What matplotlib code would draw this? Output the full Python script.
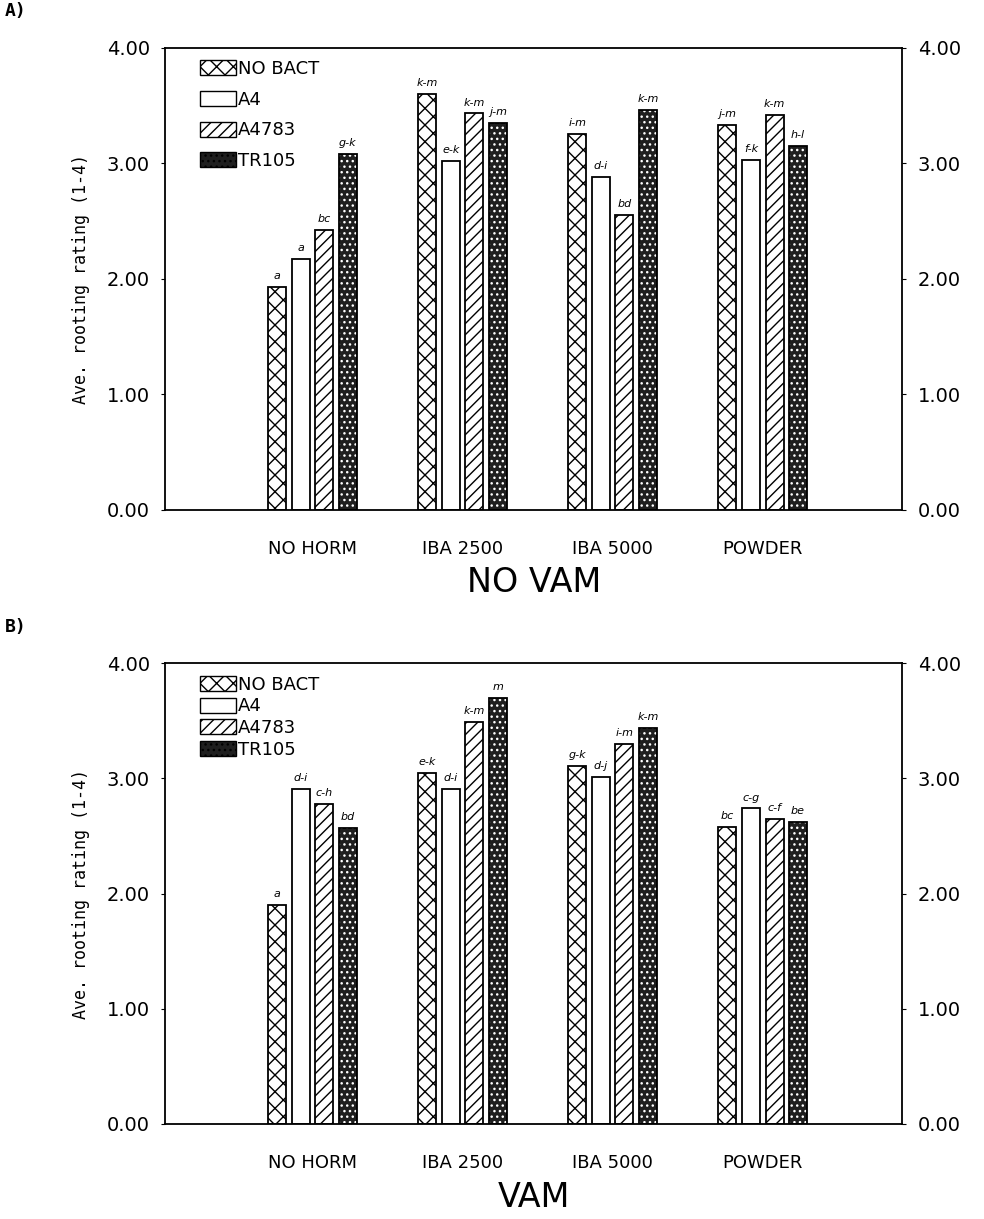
import numpy as np
import matplotlib
matplotlib.use('Agg')
import matplotlib.pyplot as plt
from matplotlib.patches import Patch

# Hormone treatments (x groups) and bacterial treatments (bars in each group)
hormones = ['NO HORM', 'IBA 2500', 'IBA 5000', 'POWDER']
bacteria = ['NO BACT', 'A4', 'A4783', 'TR105']

# Average rooting ratings, rows = bacteria, columns = hormones
no_vam_vals = [
    [1.93, 3.60, 3.25, 3.33],   # NO BACT
    [2.17, 3.02, 2.88, 3.03],   # A4
    [2.42, 3.43, 2.55, 3.42],   # A4783
    [3.08, 3.35, 3.46, 3.15],   # TR105
]
vam_vals = [
    [1.90, 3.05, 3.11, 2.58],
    [2.91, 2.91, 3.01, 2.74],
    [2.78, 3.49, 3.30, 2.65],
    [2.57, 3.70, 3.44, 2.62],
]

# Mean separation letters
no_vam_letters = [
    ['a', 'k-m', 'i-m', 'j-m'],
    ['a', 'e-k', 'd-i', 'f-k'],
    ['bc', 'k-m', 'bd', 'k-m'],
    ['g-k', 'j-m', 'k-m', 'h-l'],
]
vam_letters = [
    ['a', 'e-k', 'g-k', 'bc'],
    ['d-i', 'd-i', 'd-j', 'c-g'],
    ['c-h', 'k-m', 'i-m', 'c-f'],
    ['bd', 'm', 'k-m', 'be'],
]

y_ticks = [0, 1, 2, 3, 4]
y_tick_labels = ['0.00', '1.00', '2.00', '3.00', '4.00']

styles = [
    dict(facecolor='white', hatch='xx', hatch_color='black'),
    dict(facecolor='white', hatch='', hatch_color='black'),
    dict(facecolor='white', hatch='///', hatch_color='black'),
    dict(facecolor='0.12', hatch='...', hatch_color='white'),
]

plt.rcParams['hatch.linewidth'] = 1.0
fig = plt.figure(figsize=(9.84, 12.19), dpi=100)

width = 0.12
step = 0.157
x = np.arange(len(hormones))


def draw_panel(ax, values, letters, title, tag, legend_spacing):
    for i, name in enumerate(bacteria):
        pos = x + (i - 1.5) * step
        st = styles[i]
        # filled hatch layer
        ax.bar(pos, values[i], width, color=st['facecolor'], hatch=st['hatch'],
               edgecolor=st['hatch_color'], linewidth=0, zorder=2)
        # outline layer
        ax.bar(pos, values[i], width, color='none', edgecolor='black',
               linewidth=1.3, zorder=3)
        for xp, v, lab in zip(pos, values[i], letters[i]):
            ax.text(xp, v + 0.05, lab, ha='center', va='bottom', fontsize=8,
                    style='italic', zorder=4)

    ax.set_xlim(-0.98, 3.93)
    ax.set_ylim(0, 4)
    ax.set_xticks(x)
    ax.set_xticklabels(hormones, fontsize=13)
    ax.set_yticks(y_ticks)
    ax.set_yticklabels(y_tick_labels, fontsize=14)
    ax.tick_params(axis='x', length=0, pad=22)
    ax.tick_params(axis='y', length=3, right=True, labelright=True, pad=8)
    for sp in ax.spines.values():
        sp.set_linewidth(1.3)
    ax.set_ylabel('Ave. rooting rating (1-4)', family='DejaVu Sans Mono',
                  fontsize=12, labelpad=12)
    ax.set_xlabel(title, fontsize=24, labelpad=6)

    handles = []
    for i, name in enumerate(bacteria):
        st = styles[i]
        handles.append(Patch(facecolor=st['facecolor'], hatch=st['hatch'],
                             edgecolor='black', linewidth=1.0, label=name))
    ax.legend(handles=handles, loc='upper left', frameon=False, fontsize=13,
              handlelength=2.0, handleheight=0.9, handletextpad=0.1,
              labelspacing=legend_spacing, borderaxespad=0.3,
              bbox_to_anchor=(0.03, 1.0))
    fig.text(0.005, ax.get_position().y1 + 0.03, tag, family='DejaVu Sans Mono',
             fontsize=13, fontweight='bold', va='center')


ax1 = fig.add_axes([0.168, 0.582, 0.749, 0.379])
draw_panel(ax1, no_vam_vals, no_vam_letters, 'NO VAM', 'A)', 0.7)

ax2 = fig.add_axes([0.168, 0.078, 0.749, 0.378])
draw_panel(ax2, vam_vals, vam_letters, 'VAM', 'B)', 0.2)

fig.savefig('out.png', dpi=100)
